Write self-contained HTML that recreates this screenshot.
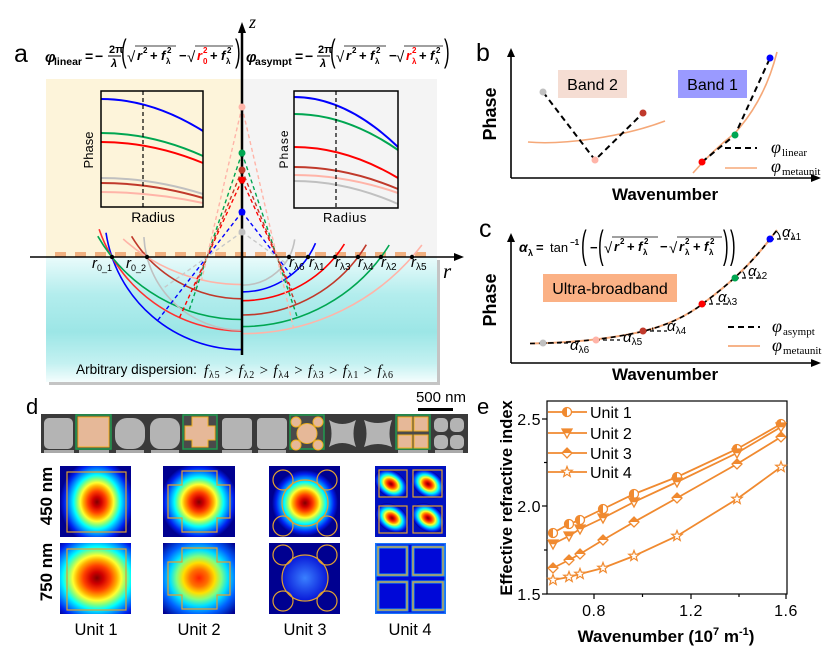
<!DOCTYPE html>
<html><head><meta charset="utf-8"><style>
html,body{margin:0;padding:0;background:#fff;}
svg{display:block;}
text{font-family:"Liberation Sans",sans-serif;}
.m{font-family:"Liberation Serif",serif;}
</style></head><body>
<svg width="831" height="652" viewBox="0 0 831 652" xmlns="http://www.w3.org/2000/svg">
<defs>
 <linearGradient id="cy" x1="0" y1="0" x2="0" y2="1">
  <stop offset="0" stop-color="#eafbfb"/>
  <stop offset="0.3" stop-color="#b3eded"/>
  <stop offset="0.6" stop-color="#9ce6e6"/>
  <stop offset="0.85" stop-color="#c4f1f1"/>
  <stop offset="1" stop-color="#f4fdfd"/>
 </linearGradient>
 <radialGradient id="jetA">
  <stop offset="0" stop-color="#800000"/>
  <stop offset="0.12" stop-color="#d00000"/>
  <stop offset="0.25" stop-color="#ff4000"/>
  <stop offset="0.37" stop-color="#ffb000"/>
  <stop offset="0.45" stop-color="#ffff30"/>
  <stop offset="0.54" stop-color="#80ff80"/>
  <stop offset="0.63" stop-color="#00ffff"/>
  <stop offset="0.75" stop-color="#0090ff"/>
  <stop offset="0.88" stop-color="#0020f0"/>
  <stop offset="1" stop-color="#000090"/>
 </radialGradient>
 <radialGradient id="jetB">
  <stop offset="0" stop-color="#ff2000"/>
  <stop offset="0.18" stop-color="#ff7000"/>
  <stop offset="0.32" stop-color="#ffe000"/>
  <stop offset="0.45" stop-color="#80ff80"/>
  <stop offset="0.58" stop-color="#00e0ff"/>
  <stop offset="0.76" stop-color="#0060ff"/>
  <stop offset="1" stop-color="#000090"/>
 </radialGradient>
 <radialGradient id="blu">
  <stop offset="0" stop-color="#3a80ff"/>
  <stop offset="1" stop-color="#0818d8"/>
 </radialGradient>
 <clipPath id="c11"><rect x="60" y="466" width="71" height="71"/></clipPath>
 <clipPath id="c12"><rect x="60" y="543" width="71" height="71"/></clipPath>
 <clipPath id="c21"><rect x="163" y="466" width="72" height="71"/></clipPath>
 <clipPath id="c22"><rect x="163" y="543" width="72" height="71"/></clipPath>
 <clipPath id="c31"><rect x="269" y="466" width="71" height="71"/></clipPath>
 <clipPath id="c32"><rect x="269" y="543" width="71" height="71"/></clipPath>
 <clipPath id="c41"><rect x="375" y="466" width="71" height="71"/></clipPath>
 <clipPath id="c42"><rect x="375" y="543" width="71" height="71"/></clipPath>
 <g id="mk1"><circle r="4.5" fill="#fff" stroke="#f08a30" stroke-width="1.3"/><path d="M0,-4.5 A4.5,4.5 0 0 0 0,4.5 Z" fill="#f08a30"/></g>
 <g id="mk2"><path d="M-5,-4 L5,-4 L0,5 Z" fill="#fff" stroke="#f08a30" stroke-width="1.3"/><path d="M-5,-4 L5,-4 L2.8,0.3 L-2.8,0.3 Z" fill="#f08a30"/></g>
 <g id="mk3"><path d="M0,-5 L5,0 L0,5 L-5,0 Z" fill="#fff" stroke="#f08a30" stroke-width="1.3"/><path d="M0,-5 L5,0 L-5,0 Z" fill="#f08a30"/></g>
 <g id="mk4"><path d="M0,-5.5 L1.35,-1.86 L5.23,-1.7 L2.19,0.71 L3.23,4.45 L0,2.3 L-3.23,4.45 L-2.19,0.71 L-5.23,-1.7 L-1.35,-1.86 Z" fill="#fff" stroke="#f08a30" stroke-width="1.2"/></g>
</defs>

<!-- ================= PANEL A ================= -->
<rect x="46" y="79" width="196" height="178" fill="#fdf4da"/>
<rect x="242" y="79" width="195" height="178" fill="#f4f4f4"/>
<rect x="49" y="260" width="391" height="125" fill="#c4c4c4"/>
<rect x="46" y="257" width="391" height="125" fill="url(#cy)"/>

<text x="14" y="62" font-size="25">a</text>

<g class="m" font-family="Liberation Serif" font-weight="bold">
 <text x="45" y="62" font-size="15" font-style="italic">φ</text>
 <text x="54" y="65" font-size="10.5">linear</text>
 <text x="85" y="61" font-size="14">=</text>
 <text x="95" y="61" font-size="14">−</text>
 <text x="109" y="53" font-size="11">2π</text>
 <line x1="108" y1="56" x2="121" y2="56" stroke="#000" stroke-width="1"/>
 <text x="111" y="67" font-size="11" font-style="italic">λ</text>
 <text transform="translate(121,62) scale(1,1.9)" font-size="17" font-weight="normal">(</text>
 <text x="127" y="62" font-size="15" font-weight="normal">√</text>
 <line x1="135" y1="46" x2="176" y2="46" stroke="#000" stroke-width="0.8"/>
 <text x="137" y="60" font-size="13" font-style="italic">r</text>
 <text x="143" y="53" font-size="8">2</text>
 <text x="150" y="60" font-size="13">+</text>
 <text x="161" y="60" font-size="13" font-style="italic">f</text>
 <text x="167" y="53" font-size="8">2</text>
 <text x="166" y="64" font-size="8">λ</text>
 <text x="179" y="60" font-size="13">−</text>
 <text x="187" y="62" font-size="15" font-weight="normal">√</text>
 <line x1="195" y1="46" x2="233" y2="46" stroke="#000" stroke-width="0.8"/>
 <text x="197" y="60" font-size="13" font-style="italic" fill="#ff0000">r</text>
 <text x="203" y="53" font-size="8" fill="#ff0000">2</text>
 <text x="203" y="64" font-size="8" fill="#ff0000">0</text>
 <text x="210" y="60" font-size="13">+</text>
 <text x="221" y="60" font-size="13" font-style="italic">f</text>
 <text x="227" y="53" font-size="8">2</text>
 <text x="226" y="64" font-size="8">λ</text>
 <text transform="translate(235,62) scale(1,1.9)" font-size="17" font-weight="normal">)</text>

 <text x="246" y="62" font-size="15" font-style="italic">φ</text>
 <text x="255" y="65" font-size="10.5">asympt</text>
 <text x="295" y="61" font-size="14">=</text>
 <text x="305" y="61" font-size="14">−</text>
 <text x="318" y="53" font-size="11">2π</text>
 <line x1="317" y1="56" x2="330" y2="56" stroke="#000" stroke-width="1"/>
 <text x="320" y="67" font-size="11" font-style="italic">λ</text>
 <text transform="translate(330,62) scale(1,1.9)" font-size="17" font-weight="normal">(</text>
 <text x="336" y="62" font-size="15" font-weight="normal">√</text>
 <line x1="344" y1="46" x2="386" y2="46" stroke="#000" stroke-width="0.8"/>
 <text x="346" y="60" font-size="13" font-style="italic">r</text>
 <text x="352" y="53" font-size="8">2</text>
 <text x="359" y="60" font-size="13">+</text>
 <text x="370" y="60" font-size="13" font-style="italic">f</text>
 <text x="376" y="53" font-size="8">2</text>
 <text x="375" y="64" font-size="8">λ</text>
 <text x="389" y="60" font-size="13">−</text>
 <text x="396" y="62" font-size="15" font-weight="normal">√</text>
 <line x1="404" y1="46" x2="443" y2="46" stroke="#000" stroke-width="0.8"/>
 <text x="406" y="60" font-size="13" font-style="italic" fill="#ff0000">r</text>
 <text x="412" y="53" font-size="8" fill="#ff0000">2</text>
 <text x="412" y="64" font-size="8" fill="#ff0000">λ</text>
 <text x="419" y="60" font-size="13">+</text>
 <text x="430" y="60" font-size="13" font-style="italic">f</text>
 <text x="436" y="53" font-size="8">2</text>
 <text x="435" y="64" font-size="8">λ</text>
 <text transform="translate(444,62) scale(1,1.9)" font-size="17" font-weight="normal">)</text>
</g>

<!-- insets -->
<g fill="none" stroke-width="2">
 <path d="M101,99 Q152,99 203,131" stroke="#0000ff"/>
 <path d="M101,133 Q152,133 203,156" stroke="#00a651"/>
 <path d="M101,142 Q152,142 203,163" stroke="#ff0000"/>
 <path d="M101,178 Q152,178 203,194" stroke="#c0c0c0"/>
 <path d="M101,183 Q152,183 203,198" stroke="#c0392b"/>
 <path d="M101,192 Q152,192 203,203" stroke="#ffb4a8"/>
 <path d="M294,97 Q346,97 398,147" stroke="#0000ff"/>
 <path d="M294,114 Q346,114 398,150" stroke="#00a651"/>
 <path d="M294,147 Q346,147 398,178" stroke="#ff0000"/>
 <path d="M294,167 Q346,167 398,189" stroke="#c0392b"/>
 <path d="M294,175 Q346,175 398,193" stroke="#ffb4a8"/>
 <path d="M294,181 Q346,181 398,204" stroke="#c0c0c0"/>
</g>
<line x1="143" y1="91" x2="143" y2="207" stroke="#000" stroke-width="1.2" stroke-dasharray="4 3"/>
<line x1="336" y1="91" x2="336" y2="208" stroke="#000" stroke-width="1.2" stroke-dasharray="4 3"/>
<rect x="101" y="91" width="102" height="116" fill="none" stroke="#000" stroke-width="1.5"/>
<rect x="294" y="91" width="104" height="117" fill="none" stroke="#000" stroke-width="1.5"/>
<text transform="translate(93,150) rotate(-90)" text-anchor="middle" font-size="13">Phase</text>
<text transform="translate(288,149) rotate(-90)" text-anchor="middle" font-size="12" letter-spacing="1">Phase</text>
<text x="153" y="222" text-anchor="middle" font-size="14">Radius</text>
<text x="345" y="222" text-anchor="middle" font-size="13" letter-spacing="0.6">Radius</text>

<line x1="55" y1="254.5" x2="432" y2="254.5" stroke="#f0b080" stroke-width="5" stroke-dasharray="11 9"/>

<g fill="none" stroke-width="1.6">
 <path d="M106,232.8 A137.57,137.57 0 0 0 242,349.6" stroke="#0000ff"/>
 <path d="M99.1,229.2 A151.1,151.1 0 0 0 242,331.1" stroke="#ff3030"/>
 <path d="M97.8,236.2 A166.5,166.5 0 0 0 242,319.5" stroke="#00a651"/>
 <path d="M143.9,237.1 A98.2,98.2 0 0 0 242,330.2" stroke="#c0c0c0"/>
 <path d="M131.6,236.3 A128.8,128.8 0 0 0 242,298.8" stroke="#c0392b"/>
 <path d="M123.2,239 A177.6,177.6 0 0 0 242,284.6" stroke="#ffb4a8"/>
 <path d="M242,285.2 A53.2,53.2 0 0 0 294.7,239.4" stroke="#c0c0c0"/>
 <path d="M242,291.9 A79.9,79.9 0 0 0 315.5,243.2" stroke="#0000ff"/>
 <path d="M242,300.7 A120.7,120.7 0 0 0 344.4,244" stroke="#ff0000"/>
 <path d="M242,315 A145,145 0 0 0 366.3,244.7" stroke="#c0392b"/>
 <path d="M242,326.6 A173.6,173.6 0 0 0 389.2,245" stroke="#00a651"/>
 <path d="M242,333.7 A226.7,226.7 0 0 0 421.9,245" stroke="#ffb4a8"/>
</g>

<g fill="none" stroke-width="1.4" stroke-dasharray="4 3">
 <path d="M242,212 L157.5,320.6 M242,212 L291.1,275.1" stroke="#0000ff"/>
 <path d="M242,180 L179.5,317.6 M242,180 L291.9,289.9" stroke="#ff0000"/>
 <path d="M242,153 L188.9,310.8 M242,153 L297.4,317.6" stroke="#00a651"/>
 <path d="M242,232 L162.1,289.1 M242,232 L285.3,262.9" stroke="#c8c8c8"/>
 <path d="M242,170 L193.9,289.5 M242,170 L296.1,304.5" stroke="#c0392b"/>
 <path d="M242,107 L201.6,280 M242,107 L293.5,327.8" stroke="#ffb4a8"/>
</g>

<line x1="30" y1="257" x2="456" y2="257" stroke="#000" stroke-width="1.5"/>
<polygon points="464,257 454,253 454,261" fill="#000"/>
<text class="m" x="443" y="278" font-size="21" font-style="italic">r</text>

<g fill="#000">
 <circle cx="112" cy="257" r="2.2"/><circle cx="147" cy="257" r="2.2"/>
 <circle cx="289" cy="257" r="2.2"/><circle cx="308" cy="257" r="2.2"/>
 <circle cx="335" cy="257" r="2.2"/><circle cx="358" cy="257" r="2.2"/>
 <circle cx="381" cy="257" r="2.2"/><circle cx="412" cy="257" r="2.2"/>
</g>
<g class="m" font-size="15">
 <text x="92" y="268"><tspan font-style="italic">r</tspan><tspan font-size="9" dy="3">0_1</tspan></text>
 <text x="126" y="268"><tspan font-style="italic">r</tspan><tspan font-size="9" dy="3">0_2</tspan></text>
 <text x="289" y="267"><tspan font-style="italic">r</tspan><tspan font-size="10" dy="3">λ6</tspan></text>
 <text x="309" y="267"><tspan font-style="italic">r</tspan><tspan font-size="10" dy="3">λ1</tspan></text>
 <text x="335" y="267"><tspan font-style="italic">r</tspan><tspan font-size="10" dy="3">λ3</tspan></text>
 <text x="358" y="267"><tspan font-style="italic">r</tspan><tspan font-size="10" dy="3">λ4</tspan></text>
 <text x="381" y="267"><tspan font-style="italic">r</tspan><tspan font-size="10" dy="3">λ2</tspan></text>
 <text x="411" y="267"><tspan font-style="italic">r</tspan><tspan font-size="10" dy="3">λ5</tspan></text>
</g>

<line x1="242" y1="30" x2="242" y2="355" stroke="#000" stroke-width="2.5"/>
<polygon points="242,22 238,33 246,33" fill="#000"/>
<text class="m" x="249" y="28" font-size="18" font-style="italic">z</text>
<circle cx="242" cy="107" r="3.5" fill="#ffb4a8"/>
<circle cx="242" cy="153" r="3.5" fill="#00a651"/>
<circle cx="242" cy="170" r="3.5" fill="#c0392b"/>
<circle cx="242" cy="180" r="3.5" fill="#ff0000"/>
<circle cx="242" cy="212" r="3.5" fill="#0000ff"/>
<circle cx="242" cy="232" r="3.5" fill="#c0c0c0"/>

<text x="76" y="374" font-size="13.6">Arbitrary dispersion:</text>
<text class="m" x="204" y="375" font-size="15" textLength="189" lengthAdjust="spacing"><tspan font-style="italic">f</tspan><tspan font-size="10" dy="3">λ5</tspan><tspan dy="-3"> &gt; </tspan><tspan font-style="italic">f</tspan><tspan font-size="10" dy="3">λ2</tspan><tspan dy="-3"> &gt; </tspan><tspan font-style="italic">f</tspan><tspan font-size="10" dy="3">λ4</tspan><tspan dy="-3"> &gt; </tspan><tspan font-style="italic">f</tspan><tspan font-size="10" dy="3">λ3</tspan><tspan dy="-3"> &gt; </tspan><tspan font-style="italic">f</tspan><tspan font-size="10" dy="3">λ1</tspan><tspan dy="-3"> &gt; </tspan><tspan font-style="italic">f</tspan><tspan font-size="10" dy="3">λ6</tspan></text>

<!-- ================= PANEL B ================= -->
<text x="476" y="61" font-size="25">b</text>
<line x1="511" y1="55" x2="511" y2="178" stroke="#000" stroke-width="1.6"/>
<polygon points="511,48 507,57 515,57" fill="#000"/>
<line x1="511" y1="178" x2="813" y2="178" stroke="#000" stroke-width="1.6"/>
<polygon points="821,178 811,174 811,182" fill="#000"/>
<text transform="translate(496,114) rotate(-90)" text-anchor="middle" font-size="18" font-weight="bold">Phase</text>
<text x="665" y="200" text-anchor="middle" font-size="17" font-weight="bold">Wavenumber</text>
<rect x="558" y="70" width="69" height="28" fill="#f5ddd3"/>
<text x="592.5" y="90" text-anchor="middle" font-size="16">Band 2</text>
<rect x="678" y="70" width="69" height="28" fill="#9a9aff"/>
<text x="712.5" y="90" text-anchor="middle" font-size="16">Band 1</text>
<path d="M528,142 C560,145 620,138 665,121" fill="none" stroke="#f5a878" stroke-width="1.6"/>
<path d="M693,173 Q713,150 735,133 Q765,100 777,52" fill="none" stroke="#f5a878" stroke-width="1.6"/>
<path d="M543,92 L595,160 L643,113" fill="none" stroke="#000" stroke-width="2" stroke-dasharray="6 4"/>
<path d="M702,162 L735,135 L770,58" fill="none" stroke="#000" stroke-width="2" stroke-dasharray="6 4"/>
<circle cx="543" cy="92" r="3.5" fill="#c0c0c0"/>
<circle cx="595" cy="160" r="3.5" fill="#ffb4a8"/>
<circle cx="643" cy="113" r="3.5" fill="#c0392b"/>
<circle cx="702" cy="162" r="3.5" fill="#ff0000"/>
<circle cx="735" cy="135" r="3.5" fill="#00a651"/>
<circle cx="770" cy="58" r="3.5" fill="#0000ff"/>
<line x1="725" y1="148" x2="757" y2="148" stroke="#000" stroke-width="2" stroke-dasharray="6 4"/>
<line x1="725" y1="168" x2="757" y2="168" stroke="#f5a878" stroke-width="1.6"/>
<text class="m" x="771" y="153" font-size="18" font-style="italic">φ</text>
<text class="m" x="782" y="156" font-size="11">linear</text>
<text class="m" x="771" y="172" font-size="18" font-style="italic">φ</text>
<text class="m" x="782" y="175" font-size="11">metaunit</text>

<!-- ================= PANEL C ================= -->
<text x="479" y="237" font-size="25">c</text>
<line x1="511" y1="240" x2="511" y2="363" stroke="#000" stroke-width="1.6"/>
<polygon points="511,233 507,242 515,242" fill="#000"/>
<line x1="511" y1="363" x2="813" y2="363" stroke="#000" stroke-width="1.6"/>
<polygon points="821,363 811,359 811,367" fill="#000"/>
<text transform="translate(496,300) rotate(-90)" text-anchor="middle" font-size="18" font-weight="bold">Phase</text>
<text x="665" y="380" text-anchor="middle" font-size="17" font-weight="bold">Wavenumber</text>
<rect x="543" y="274" width="134" height="28" fill="#fbb185"/>
<text x="610" y="294" text-anchor="middle" font-size="16">Ultra-broadband</text>

<g class="m" font-weight="bold">
 <text x="519" y="252" font-size="14" font-style="italic">α</text>
 <text x="528" y="256" font-size="9">λ</text>
 <text x="536" y="252" font-size="13">=</text>
 <text x="550" y="252" font-size="13" font-weight="normal">tan</text>
 <text x="570" y="245" font-size="8">−1</text>
 <text transform="translate(581,258) scale(1,2.3)" font-size="17" font-weight="normal">(</text>
 <text x="590" y="252" font-size="13">−</text>
 <text transform="translate(598,258) scale(1,2.3)" font-size="17" font-weight="normal">(</text>
 <text x="604" y="253" font-size="15" font-weight="normal">√</text>
 <line x1="612" y1="237" x2="658" y2="237" stroke="#000" stroke-width="0.8"/>
 <text x="614" y="251" font-size="13" font-style="italic">r</text>
 <text x="620" y="244" font-size="8">2</text>
 <text x="627" y="251" font-size="13">+</text>
 <text x="638" y="251" font-size="13" font-style="italic">f</text>
 <text x="644" y="244" font-size="8">2</text>
 <text x="643" y="255" font-size="8">λ</text>
 <text x="660" y="251" font-size="13">−</text>
 <text x="669" y="253" font-size="15" font-weight="normal">√</text>
 <line x1="677" y1="237" x2="722" y2="237" stroke="#000" stroke-width="0.8"/>
 <text x="679" y="251" font-size="13" font-style="italic">r</text>
 <text x="685" y="244" font-size="8">2</text>
 <text x="685" y="255" font-size="8">λ</text>
 <text x="693" y="251" font-size="13">+</text>
 <text x="704" y="251" font-size="13" font-style="italic">f</text>
 <text x="710" y="244" font-size="8">2</text>
 <text x="709" y="255" font-size="8">λ</text>
 <text transform="translate(723,258) scale(1,2.3)" font-size="17" font-weight="normal">)</text>
 <text transform="translate(730,258) scale(1,2.3)" font-size="17" font-weight="normal">)</text>
</g>

<path d="M530,343.5 C560,343 600,341 640,332 C670,325 690,314 705,302 C725,287 748,268 770,239 L777,230" fill="none" stroke="#f5a878" stroke-width="2"/>
<path d="M530,343.5 C560,343 600,341 640,332 C670,325 690,314 705,302 C725,287 748,268 770,239 L777,230" fill="none" stroke="#000" stroke-width="1.6" stroke-dasharray="5 4"/>
<g stroke="#000" stroke-width="1.2" stroke-dasharray="4 3">
 <line x1="770" y1="239" x2="797" y2="239"/>
 <line x1="735" y1="278" x2="760" y2="278"/>
 <line x1="702" y1="304" x2="728" y2="304"/>
 <line x1="643" y1="331" x2="667" y2="331"/>
 <line x1="596" y1="340" x2="620" y2="340"/>
 <line x1="543" y1="343" x2="570" y2="343"/>
</g>
<g fill="none" stroke="#000" stroke-width="1">
 <path d="M780,239 A10,10 0 0 0 775.7,230.8"/>
 <path d="M745,278 A10,10 0 0 0 742.7,271.6"/>
 <path d="M712,304 A10,10 0 0 0 710.2,298.3"/>
 <path d="M653,331 A10,10 0 0 0 652.4,327.6"/>
</g>
<circle cx="543" cy="343" r="3.5" fill="#c0c0c0"/>
<circle cx="596" cy="340" r="3.5" fill="#ffb4a8"/>
<circle cx="643" cy="331" r="3.5" fill="#c0392b"/>
<circle cx="702" cy="304" r="3.5" fill="#ff0000"/>
<circle cx="735" cy="278" r="3.5" fill="#00a651"/>
<circle cx="770" cy="239" r="3.5" fill="#0000ff"/>
<g class="m" font-size="15">
 <text x="782" y="237"><tspan font-style="italic">α</tspan><tspan font-size="10" dy="3">λ1</tspan></text>
 <text x="748" y="276"><tspan font-style="italic">α</tspan><tspan font-size="10" dy="3">λ2</tspan></text>
 <text x="718" y="302"><tspan font-style="italic">α</tspan><tspan font-size="10" dy="3">λ3</tspan></text>
 <text x="667" y="331"><tspan font-style="italic">α</tspan><tspan font-size="10" dy="3">λ4</tspan></text>
 <text x="623" y="342"><tspan font-style="italic">α</tspan><tspan font-size="10" dy="3">λ5</tspan></text>
 <text x="570" y="350"><tspan font-style="italic">α</tspan><tspan font-size="10" dy="3">λ6</tspan></text>
</g>
<line x1="728" y1="327" x2="760" y2="327" stroke="#000" stroke-width="2" stroke-dasharray="6 4"/>
<line x1="728" y1="346" x2="760" y2="346" stroke="#f5a878" stroke-width="1.8"/>
<text class="m" x="772" y="332" font-size="18" font-style="italic">φ</text>
<text class="m" x="783" y="335" font-size="11">asympt</text>
<text class="m" x="772" y="351" font-size="18" font-style="italic">φ</text>
<text class="m" x="783" y="354" font-size="11">metaunit</text>

<!-- ================= PANEL D ================= -->
<text x="26" y="414" font-size="22">d</text>
<text x="441" y="402" text-anchor="middle" font-size="15">500 nm</text>
<rect x="418" y="408" width="35" height="3" fill="#000"/>
<text x="477" y="414" font-size="22">e</text>

<rect x="41" y="414" width="427" height="39" fill="#3a3a3a"/>
<g fill="#aaaaaa">
 <rect x="44" y="450" width="30" height="3"/><rect x="79" y="450" width="30" height="3"/><rect x="116" y="450" width="28" height="3"/>
 <rect x="151" y="450" width="28" height="3"/><rect x="222" y="450" width="30" height="3"/><rect x="258" y="450" width="28" height="3"/>
 <rect x="398" y="450" width="30" height="3"/><rect x="435" y="450" width="28" height="3"/>
</g>
<g fill="#b4b4b4">
 <rect x="44" y="418" width="29" height="31" rx="5"/>
 <rect x="115" y="418" width="30" height="31" rx="12"/>
 <rect x="150" y="418" width="30" height="31" rx="10"/>
 <rect x="222" y="418" width="30" height="31" rx="4"/>
 <rect x="257" y="418" width="30" height="31" rx="4"/>
 <path d="M329,420 Q342,428 356,420 Q351,433.5 356,447 Q342,439 329,447 Q334,433.5 329,420 Z"/>
 <path d="M364,420 Q378,426 392,420 Q387,433.5 392,447 Q378,441 364,447 Q369,433.5 364,420 Z"/>
 <rect x="434" y="418" width="14" height="14" rx="5"/><rect x="450" y="418" width="14" height="14" rx="5"/>
 <rect x="434" y="435" width="14" height="14" rx="5"/><rect x="450" y="435" width="14" height="14" rx="5"/>
</g>
<g stroke="#1f9a4f" stroke-width="1.5" fill="#4a4a4a">
 <rect x="76" y="415" width="35" height="34"/>
 <rect x="183" y="415" width="34" height="34"/>
 <rect x="290" y="415" width="34" height="34"/>
 <rect x="396" y="415" width="34" height="34"/>
</g>
<g fill="#e6b898" stroke="#f0b020" stroke-width="1">
 <rect x="78" y="417" width="31" height="30"/>
 <path d="M192,417 L208,417 L208,426 L215,426 L215,440 L208,440 L208,447 L192,447 L192,440 L185,440 L185,426 L192,426 Z"/>
 <circle cx="307" cy="433.5" r="10"/>
 <circle cx="296" cy="422" r="5"/><circle cx="318" cy="422" r="5"/>
 <circle cx="296" cy="445" r="5"/><circle cx="318" cy="445" r="5"/>
 <rect x="398" y="417" width="14" height="14"/><rect x="414" y="417" width="14" height="14"/>
 <rect x="398" y="435" width="14" height="13"/><rect x="414" y="435" width="14" height="13"/>
</g>

<!-- field maps -->
<g clip-path="url(#c11)"><rect x="60" y="466" width="71" height="71" fill="#000090"/><ellipse cx="97" cy="502" rx="37" ry="43" fill="url(#jetA)"/></g>
<rect x="67" y="472" width="59" height="60" fill="none" stroke="#e0a030" stroke-width="1.2"/>
<g clip-path="url(#c12)"><rect x="60" y="543" width="71" height="71" fill="#000090"/><ellipse cx="97" cy="578" rx="54" ry="50" fill="url(#jetA)"/></g>
<rect x="67" y="549" width="59" height="61" fill="none" stroke="#e0a030" stroke-width="1.2"/>

<g clip-path="url(#c21)"><rect x="163" y="466" width="72" height="71" fill="#000090"/><ellipse cx="199" cy="502" rx="39" ry="39" fill="url(#jetA)"/></g>
<path d="M182,471 L217,471 L217,485 L230,485 L230,518 L217,518 L217,532 L182,532 L182,518 L168,518 L168,485 L182,485 Z" fill="none" stroke="#e0a030" stroke-width="1.2"/>
<g clip-path="url(#c22)"><rect x="163" y="543" width="72" height="71" fill="#000090"/><ellipse cx="199" cy="578" rx="50" ry="48" fill="url(#jetB)"/></g>
<path d="M182,548 L217,548 L217,562 L230,562 L230,595 L217,595 L217,609 L182,609 L182,595 L168,595 L168,562 L182,562 Z" fill="none" stroke="#e0a030" stroke-width="1.2"/>

<g clip-path="url(#c31)"><rect x="269" y="466" width="71" height="71" fill="#000090"/><ellipse cx="305" cy="503" rx="33" ry="33" fill="url(#jetA)"/></g>
<g fill="none" stroke="#e0a030" stroke-width="1.2">
 <circle cx="305" cy="503" r="23"/>
 <circle cx="283" cy="480" r="10"/><circle cx="327" cy="480" r="10"/>
 <circle cx="283" cy="526" r="10"/><circle cx="327" cy="526" r="10"/>
</g>
<g clip-path="url(#c32)"><rect x="269" y="543" width="71" height="71" fill="#000090"/><circle cx="305" cy="578" r="23" fill="url(#blu)"/></g>
<g fill="none" stroke="#e0a030" stroke-width="1.2">
 <circle cx="305" cy="578" r="23"/>
 <circle cx="283" cy="555" r="10"/><circle cx="327" cy="555" r="10"/>
 <circle cx="283" cy="601" r="10"/><circle cx="327" cy="601" r="10"/>
</g>

<g clip-path="url(#c41)"><rect x="375" y="466" width="71" height="71" fill="#0010c0"/>
 <ellipse cx="391" cy="484" rx="18" ry="13" fill="url(#jetA)" transform="rotate(35 391 484)"/>
 <ellipse cx="428" cy="484" rx="18" ry="13" fill="url(#jetA)" transform="rotate(35 428 484)"/>
 <ellipse cx="392" cy="518" rx="18" ry="13" fill="url(#jetA)" transform="rotate(35 392 518)"/>
 <ellipse cx="428" cy="518" rx="18" ry="13" fill="url(#jetA)" transform="rotate(35 428 518)"/>
</g>
<g fill="none" stroke="#e0a030" stroke-width="1.2">
 <rect x="379" y="470" width="28" height="27"/><rect x="413" y="470" width="29" height="27"/>
 <rect x="379" y="506" width="28" height="27"/><rect x="413" y="506" width="29" height="27"/>
</g>
<g clip-path="url(#c42)"><rect x="375" y="543" width="71" height="71" fill="#0008d8"/>
 <g fill="none" stroke="#30d8ff" stroke-width="3" opacity="0.7">
  <rect x="378" y="547" width="29" height="28"/><rect x="413" y="547" width="30" height="28"/>
  <rect x="378" y="582" width="29" height="28"/><rect x="413" y="582" width="30" height="28"/>
 </g>
 <rect x="375" y="543" width="71" height="71" fill="none" stroke="#2090ff" stroke-width="3" opacity="0.8"/>
</g>
<g fill="none" stroke="#e0a030" stroke-width="1.2">
 <rect x="378" y="547" width="29" height="28"/><rect x="413" y="547" width="30" height="28"/>
 <rect x="378" y="582" width="29" height="28"/><rect x="413" y="582" width="30" height="28"/>
</g>

<text transform="translate(52,496) rotate(-90)" text-anchor="middle" font-size="17" font-weight="bold">450 nm</text>
<text transform="translate(52,572) rotate(-90)" text-anchor="middle" font-size="17" font-weight="bold">750 nm</text>
<g font-size="16.5" text-anchor="middle">
 <text x="96" y="635">Unit  1</text>
 <text x="199" y="635">Unit 2</text>
 <text x="305" y="635">Unit 3</text>
 <text x="410" y="635">Unit 4</text>
</g>

<!-- ================= PANEL E ================= -->
<rect x="547" y="401" width="240" height="193" fill="none" stroke="#000" stroke-width="1.2"/>
<g stroke="#000" stroke-width="1.2">
 <line x1="542" y1="419" x2="547" y2="419"/><line x1="542" y1="506" x2="547" y2="506"/><line x1="542" y1="594" x2="547" y2="594"/>
 <line x1="544" y1="462.5" x2="547" y2="462.5"/><line x1="544" y1="550" x2="547" y2="550"/>
 <line x1="594" y1="594" x2="594" y2="599"/><line x1="691" y1="594" x2="691" y2="599"/><line x1="786" y1="594" x2="786" y2="599"/>
 <line x1="642.5" y1="594" x2="642.5" y2="597"/><line x1="739" y1="594" x2="739" y2="597"/>
</g>
<g font-size="16" letter-spacing="0.5">
 <text x="541" y="425" text-anchor="end">2.5</text>
 <text x="541" y="512" text-anchor="end">2.0</text>
 <text x="541" y="600" text-anchor="end">1.5</text>
 <text x="594" y="616" text-anchor="middle">0.8</text>
 <text x="691" y="616" text-anchor="middle">1.2</text>
 <text x="786" y="616" text-anchor="middle">1.6</text>
</g>
<text transform="translate(512,498) rotate(-90)" text-anchor="middle" font-size="16.5" font-weight="bold">Effective refractive index</text>
<text x="666" y="642" text-anchor="middle" font-size="17" font-weight="bold">Wavenumber (10<tspan font-size="11" dy="-7">7</tspan><tspan dy="7"> m</tspan><tspan font-size="11" dy="-7">-1</tspan><tspan dy="7">)</tspan></text>

<g fill="none" stroke="#f08a30" stroke-width="1.8">
 <polyline points="553,533 569,524 580,520 603,509 634,494 677,477 737,449 781,424"/>
 <polyline points="553,544 569,536 580,529 603,518 634,502 677,482 737,453 781,427"/>
 <polyline points="553,568 569,560 580,554 603,540 634,522 677,498 737,464 781,437"/>
 <polyline points="553,580 569,577 580,574 603,568 634,556 677,536 737,499 781,467"/>
 <line x1="548" y1="412" x2="587" y2="412"/>
 <line x1="548" y1="433" x2="587" y2="433"/>
 <line x1="548" y1="453" x2="587" y2="453"/>
 <line x1="548" y1="472" x2="587" y2="472"/>
</g>
<use href="#mk1" x="553" y="533"/><use href="#mk1" x="569" y="524"/><use href="#mk1" x="580" y="520"/><use href="#mk1" x="603" y="509"/><use href="#mk1" x="634" y="494"/><use href="#mk1" x="677" y="477"/><use href="#mk1" x="737" y="449"/><use href="#mk1" x="781" y="424"/>
<use href="#mk2" x="553" y="544"/><use href="#mk2" x="569" y="536"/><use href="#mk2" x="580" y="529"/><use href="#mk2" x="603" y="518"/><use href="#mk2" x="634" y="502"/><use href="#mk2" x="677" y="482"/><use href="#mk2" x="737" y="453"/><use href="#mk2" x="781" y="427"/>
<use href="#mk3" x="553" y="568"/><use href="#mk3" x="569" y="560"/><use href="#mk3" x="580" y="554"/><use href="#mk3" x="603" y="540"/><use href="#mk3" x="634" y="522"/><use href="#mk3" x="677" y="498"/><use href="#mk3" x="737" y="464"/><use href="#mk3" x="781" y="437"/>
<use href="#mk4" x="553" y="580"/><use href="#mk4" x="569" y="577"/><use href="#mk4" x="580" y="574"/><use href="#mk4" x="603" y="568"/><use href="#mk4" x="634" y="556"/><use href="#mk4" x="677" y="536"/><use href="#mk4" x="737" y="499"/><use href="#mk4" x="781" y="467"/>
<use href="#mk1" x="567" y="412"/><use href="#mk2" x="567" y="433"/><use href="#mk3" x="567" y="453"/><use href="#mk4" x="567" y="472"/>
<g font-size="16">
 <text x="590" y="418">Unit 1</text>
 <text x="590" y="439">Unit 2</text>
 <text x="590" y="459">Unit 3</text>
 <text x="590" y="478">Unit 4</text>
</g>
</svg>
</body></html>
